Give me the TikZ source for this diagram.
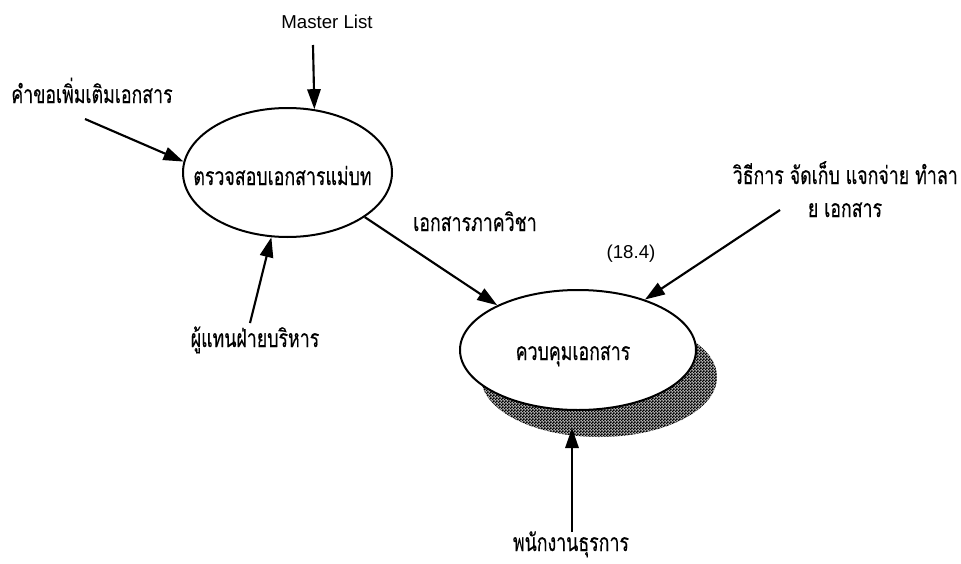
\documentclass[tikz,border=0pt]{standalone}
\usepackage{fontspec}
\setmainfont{Liberation Sans}
\newfontfamily\thai[Script=Thai, FakeStretch=0.72, FakeBold=0.35]{Loma}
\usetikzlibrary{arrows.meta,patterns,shapes.geometric}

% fine checkerboard used for the drop shadow of the process bubble
\pgfdeclarepatternformonly{halftone}{\pgfpointorigin}{\pgfpoint{2pt}{2pt}}{\pgfpoint{2pt}{2pt}}{
  \pgfpathrectangle{\pgfpointorigin}{\pgfpoint{1.2pt}{1.2pt}}
  \pgfpathrectangle{\pgfpoint{1pt}{1pt}}{\pgfpoint{1.2pt}{1.2pt}}
  \pgfusepath{fill}}

\tikzset{
  proc/.style={ellipse, draw, line width=1.5pt, inner sep=0pt},
  flow/.style={-{Triangle[length=15pt,width=10pt]}, line width=1.6pt},
  thlabel/.style={font=\thai\fontsize{18.5}{20}\selectfont, inner sep=0pt, anchor=base},
  latlabel/.style={font=\fontsize{14}{16}\selectfont, inner sep=0pt, anchor=base}
}

\begin{document}
\begin{tikzpicture}[x=0.75pt,y=-0.75pt]
\useasboundingbox (0,0) rectangle (961,564);

% upper process
\node[proc, minimum width=156.75pt, minimum height=96.75pt] (e1) at (287.5,172.5) {};
\node[thlabel] (e1t) at (282.5,185) {ตรวจสอบเอกสารแม่บท};

% lower process with its shadow
\node[ellipse, inner sep=0pt, minimum width=177pt, minimum height=90pt,
      preaction={fill=black!30}, pattern=halftone] (s2) at (599,377) {};
\node[proc, fill=white, minimum width=177pt, minimum height=90pt] (e2) at (578,350) {};
\node[thlabel] (e2t) at (573,360) {ควบคุมเอกสาร};

% labels
\node[latlabel] (ml) at (327,28) {Master List};
\node[thlabel] (req) at (92,103) {คำขอเพิ่มเติมเอกสาร};
\node[thlabel] (mgr) at (255,347) {ผู้แทนฝ่ายบริหาร};
\node[thlabel, anchor=base west] (dept) at (413,231) {เอกสารภาควิชา};
\node[latlabel] (num) at (631,258) {(18.4)};
\node[thlabel, anchor=base east] (proc1) at (958,184) {วิธีการ จัดเก็บ แจกจ่าย ทำลา};
\node[thlabel] (proc2) at (845,217) {ย เอกสาร};
\node[thlabel] (staff) at (571,551) {พนักงานธุรการ};

% free ends of the flows
\coordinate (mlt) at (313,45);
\coordinate (reqt) at (85,119);
\coordinate (mgrt) at (250,323);
\coordinate (proct) at (780,210);
\coordinate (stafft) at (572,532);
\coordinate (staffh) at (572,428);

% flows
\draw[flow] (mlt) -- (e1.67.8);
\draw[flow] (reqt) -- (e1.174);
\draw[flow] (mgrt) -- (e1.256.5);
\draw[flow] (e1.330.8) -- (e2.151);
\draw[flow] (proct) -- (e2.37.6);
\draw[flow] (stafft) -- (staffh);
\end{tikzpicture}
\end{document}
